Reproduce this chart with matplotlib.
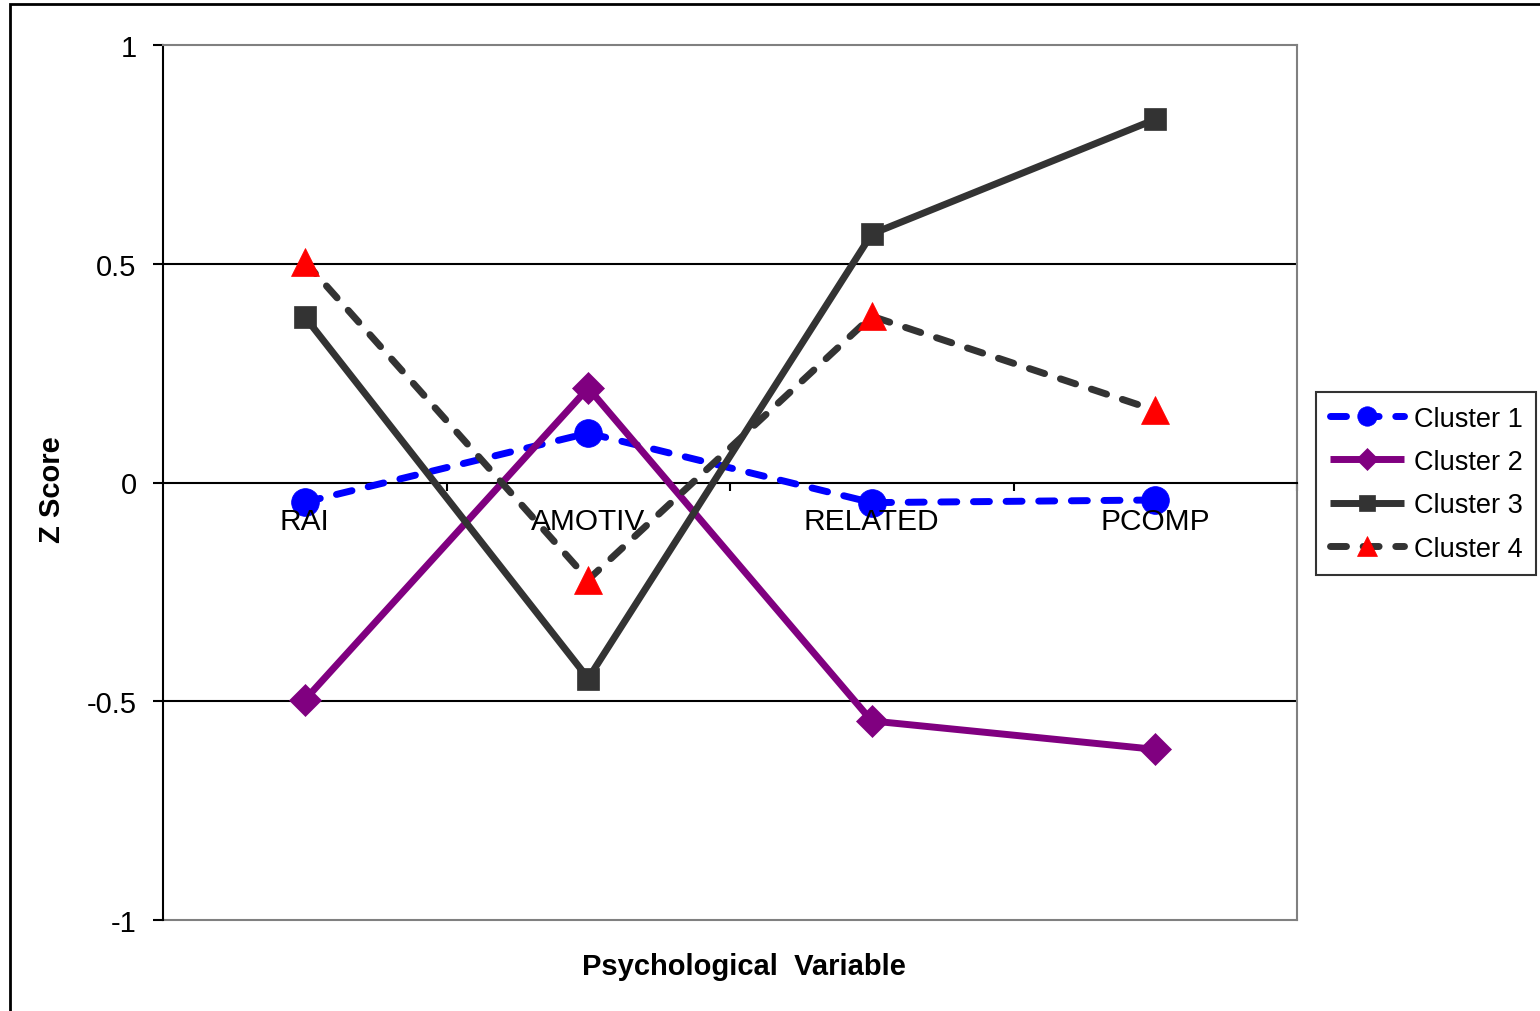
import matplotlib
matplotlib.use("Agg")
import matplotlib.pyplot as plt
from matplotlib.patches import Rectangle

plt.rcParams['font.family'] = ['Liberation Sans', 'DejaVu Sans']

categories = ["RAI", "AMOTIV", "RELATED", "PCOMP"]
series_names = ["Cluster 1", "Cluster 2", "Cluster 3", "Cluster 4"]
cluster1 = [-0.045, 0.113, -0.046, -0.040]
cluster2 = [-0.497, 0.216, -0.545, -0.610]
cluster3 = [0.379, -0.448, 0.568, 0.830]
cluster4 = [0.505, -0.222, 0.380, 0.165]
y_ticks = [-1, -0.5, 0, 0.5, 1]
y_tick_labels = ["-1", "-0.5", "0", "0.5", "1"]

W, H = 1540, 1012
fig = plt.figure(figsize=(W / 100, H / 100), dpi=100)
fig.patch.set_facecolor("white")

# outer chart frame (runs off the right and bottom edges)
fig.patches.append(Rectangle((10 / W, -0.05), 1.2, 1 - 5 / H + 0.05,
                             transform=fig.transFigure, fill=False,
                             edgecolor="black", linewidth=2))

ax = fig.add_axes([163 / W, 91 / H, 1134 / W, 875 / H])
ax.set_xlim(0, 4)
ax.set_ylim(-1, 1)

x = [i + 0.5 for i in range(len(categories))]

# grid lines
for g in (0.5, -0.5):
    ax.axhline(g, color="black", linewidth=1.5, zorder=1)

styles = [
    dict(color="#0000FF", marker="o", markersize=20, mfc="#0000FF", mec="#0000FF", dashes=(2.3, 2.4)),
    dict(color="#800080", marker="D", markersize=16.5, mfc="#800080", mec="#800080", dashes=None),
    dict(color="#333333", marker="s", markersize=16, mfc="#333333", mec="#333333", dashes=None),
    dict(color="#333333", marker="^", markersize=20, mfc="#FF0000", mec="#FF0000", dashes=(2.3, 2.4)),
]
data = [cluster1, cluster2, cluster3, cluster4]
handles = []
for vals, name, st in zip(data, series_names, styles):
    kw = dict(color=st["color"], linewidth=5, marker=st["marker"],
              markersize=st["markersize"], markerfacecolor=st["mfc"],
              markeredgecolor=st["mec"], markeredgewidth=0.5, label=name,
              zorder=3, clip_on=False)
    if st["dashes"] is not None:
        kw["dashes"] = st["dashes"]
        kw["dash_capstyle"] = "round"
    else:
        kw["solid_capstyle"] = "butt"
    (ln,) = ax.plot(x, vals, **kw)
    handles.append(ln)

# spines: left black, others grey; x axis crosses at zero
for s in ("top", "right"):
    ax.spines[s].set_color("#808080")
    ax.spines[s].set_linewidth(1.5)
ax.spines["left"].set_color("black")
ax.spines["left"].set_linewidth(1.5)
ax.spines["bottom"].set_position(("data", 0))
ax.spines["bottom"].set_color("black")
ax.spines["bottom"].set_linewidth(1.5)
ax.plot([0, 4], [-1, -1], color="#808080", linewidth=1.5, clip_on=False, zorder=2)

ax.set_yticks(y_ticks)
ax.set_yticklabels(y_tick_labels, fontsize=21)
ax.tick_params(axis="y", direction="out", length=7, width=1.5, pad=12)

ax.set_xticks([1, 2, 3, 4])
ax.set_xticklabels([])
ax.tick_params(axis="x", which="major", direction="out", length=6, width=1.5)

# category names sit just under the zero line, above the series
for xi, cat in zip(x, categories):
    ax.annotate(cat, xy=(xi, 0), xytext=(0, -39), textcoords="offset pixels",
                ha="center", va="center", fontsize=21.5, zorder=5)

fig.text(744 / W, 1 - 967 / H, "Psychological  Variable", ha="center", va="center",
         fontsize=21, fontweight="bold")
fig.text(52 / W, 1 - 490 / H, "Z Score", ha="center", va="center", rotation=90,
         fontsize=21, fontweight="bold")

leg = fig.legend(handles=handles, loc="upper left",
                 bbox_to_anchor=(1316 / W, 1 - 393 / H),
                 bbox_transform=fig.transFigure, fontsize=19.5,
                 frameon=True, fancybox=False, edgecolor="black",
                 handlelength=2.75, handletextpad=0.35, labelspacing=0.64,
                 borderpad=0.5, borderaxespad=0, markerscale=0.7)
leg.get_frame().set_linewidth(1.5)

fig.savefig("out.png", dpi=100, facecolor="white")
